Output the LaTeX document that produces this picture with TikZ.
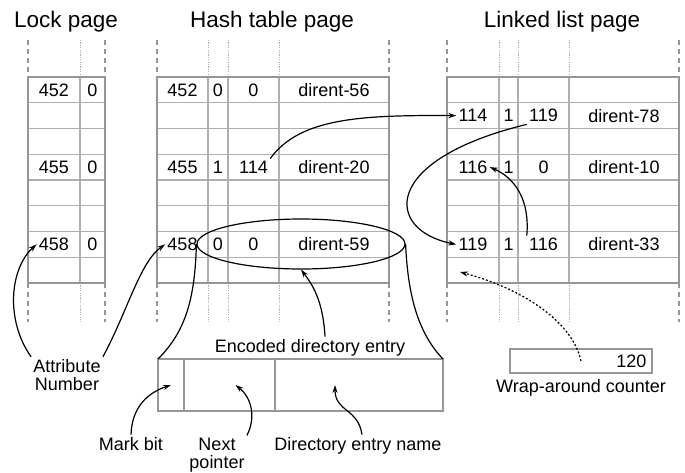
\documentclass[tikz,border=0pt]{standalone}
\usepackage{fontspec}
\setmainfont{Liberation Sans}
\usetikzlibrary{arrows.meta,positioning,shapes.geometric}

\definecolor{pagegray}{RGB}{150,150,150}
\definecolor{gridgray}{RGB}{175,175,175}

\tikzset{
  pageline/.style={draw=pagegray, line width=1.4pt},
  gridline/.style={draw=gridgray, line width=0.6pt},
  pageext/.style={draw=pagegray, line width=1.4pt, dash pattern=on 2.5pt off 2pt},
  gridext/.style={draw=gridgray, line width=0.4pt, dash pattern=on 0.6pt off 0.6pt},
  cell/.style={inner sep=1pt, font=\fontsize{9}{10.8}\selectfont},
  title/.style={anchor=base, font=\fontsize{11.25}{13.5}\selectfont},
  note/.style={inner sep=1pt, align=center, font=\fontsize{9}{9.2}\selectfont},
  entrycell/.style={draw=pagegray, line width=1.2pt, minimum height=26pt, inner sep=0pt, outer sep=0pt},
  counterbox/.style={draw=pagegray, line width=0.7pt, minimum width=71pt, minimum height=12pt, inner sep=0pt},
  ptr/.style={draw=black, line width=0.6pt, -{Stealth[length=4pt,width=2.6pt]}},
  dotptr/.style={ptr, dash pattern=on 1pt off 1pt},
}

\begin{document}
\begin{tikzpicture}[x=0.5pt,y=-0.5pt]
\useasboundingbox (0,0) rectangle (685,472);

% Titles
\node[title] (locktitle) at (66,27) {Lock page};
\node[title] (hashtitle) at (272,27) {Hash table page};
\node[title] (listtitle) at (562,27) {Linked list page};

% Lock page
\foreach \r in {1,...,7}
  \draw[gridline] (28,{77+25.75*\r}) -- (105,{77+25.75*\r});
\draw[gridline] (80,77) -- (80,283);
\draw[gridext] (80,40) -- (80,77);
\draw[gridext] (80,283) -- (80,322);
\draw[pageline] (28,77) rectangle (105,283);
\foreach \x in {28,105} {
  \draw[pageext] (\x,40) -- (\x,77);
  \draw[pageext] (\x,283) -- (\x,322);
}

% Hash table page
\foreach \r in {1,...,7}
  \draw[gridline] (157,{77+25.75*\r}) -- (389,{77+25.75*\r});
\foreach \x in {208,228,279} {
  \draw[gridline] (\x,77) -- (\x,283);
  \draw[gridext] (\x,40) -- (\x,77);
  \draw[gridext] (\x,283) -- (\x,322);
}
\draw[pageline] (157,77) rectangle (389,283);
\foreach \x in {157,389} {
  \draw[pageext] (\x,40) -- (\x,77);
  \draw[pageext] (\x,283) -- (\x,322);
}

% Linked list page
\foreach \r in {1,...,7}
  \draw[gridline] (447,{77+25.75*\r}) -- (679,{77+25.75*\r});
\foreach \x in {499,518,569} {
  \draw[gridline] (\x,77) -- (\x,283);
  \draw[gridext] (\x,40) -- (\x,77);
  \draw[gridext] (\x,283) -- (\x,322);
}
\draw[pageline] (447,77) rectangle (679,283);
\foreach \x in {447,679} {
  \draw[pageext] (\x,40) -- (\x,77);
  \draw[pageext] (\x,283) -- (\x,322);
}

% Lock page entries
\node[cell] (lockkey0) at (54,89.9) {452};
\node[cell] (lockbit0) at (92.5,89.9) {0};
\node[cell] (lockkey3) at (54,167.1) {455};
\node[cell] (lockbit3) at (92.5,167.1) {0};
\node[cell] (lockkey6) at (54,244.4) {458};
\node[cell] (lockbit6) at (92.5,244.4) {0};

% Hash table entries
\node[cell] (hkey0) at (182.5,89.9) {452};
\node[cell] (hbit0) at (218,89.9) {0};
\node[cell] (hnext0) at (253.5,89.9) {0};
\node[cell] (hname0) at (334,89.9) {dirent-56};
\node[cell] (hkey3) at (182.5,167.1) {455};
\node[cell] (hbit3) at (218,167.1) {1};
\node[cell] (hnext3) at (253.5,167.1) {114};
\node[cell] (hname3) at (334,167.1) {dirent-20};
\node[cell] (hkey6) at (182.5,244.4) {458};
\node[cell] (hbit6) at (218,244.4) {0};
\node[cell] (hnext6) at (253.5,244.4) {0};
\node[cell] (hname6) at (334,244.4) {dirent-59};

% Linked list entries
\node[cell] (lkey1) at (473,115.6) {114};
\node[cell] (lbit1) at (508.5,115.6) {1};
\node[cell] (lnext1) at (543.5,115.6) {119};
\node[cell] (lname1) at (624,115.6) {dirent-78};
\node[cell] (lkey3) at (473,167.1) {116};
\node[cell] (lbit3) at (508.5,167.1) {1};
\node[cell] (lnext3) at (543.5,167.1) {0};
\node[cell] (lname3) at (624,167.1) {dirent-10};
\node[cell] (lkey6) at (473,244.4) {119};
\node[cell] (lbit6) at (508.5,244.4) {1};
\node[cell] (lnext6) at (543.5,244.4) {116};
\node[cell] (lname6) at (624,244.4) {dirent-33};
\coordinate (lfree) at (460,272);

% Encoded entry
\node[draw, ellipse, line width=0.6pt, minimum width=104pt, minimum height=25pt, inner sep=0pt] (entry) at (301,244) {};
\node[note, anchor=base] (enclbl) at (310,352) {Encoded directory entry};
\node[entrycell, minimum width=13pt] (mark) at (171,385) {};
\node[entrycell, minimum width=45.5pt, right=0pt of mark] (nextp) {};
\node[entrycell, minimum width=84pt, right=0pt of nextp] (dname) {};

% Wrap-around counter
\node[counterbox] (wrap) at (581,361) {};
\node[cell, left=2pt of wrap.east] (count) {120};
\node[note, anchor=base] (wraplbl) at (581,392) {Wrap-around counter};

% Labels
\node[note] (albl) at (67,375) {Attribute\\Number};
\node[note, anchor=base] (mlbl) at (131,450) {Mark bit};
\node[note] (nlbl) at (217,455) {Next\\pointer};
\node[note, anchor=base] (dlbl) at (358,450) {Directory entry name};

% Pointers
\draw[ptr] (hnext3.north east) .. controls (300,118) and (360,115) .. (lkey1.west);
\draw[ptr] (lnext1.south west) .. controls (380,160) and (385,230) .. (lkey6.west);
\draw[ptr] (lnext6.north west) .. controls (530,200) and (515,178) .. (lkey3.east);
\draw[dotptr] (wrap.center) .. controls (572,320) and (520,288) .. (lfree);
\draw[ptr] (albl.north west) .. controls (5,320) and (10,268) .. (lockkey6.west);
\draw[ptr] (albl.north east) .. controls (128,310) and (140,262) .. (hkey6.west);
\draw[ptr] ([xshift=7.5pt]enclbl.north) .. controls (323,300) and (312,284) .. (entry.south);
\draw[ptr] (mlbl.north) .. controls (132,405) and (150,392) .. (mark.center);
\draw[ptr] (nlbl.north east) .. controls (256,418) and (252,398) .. ([xshift=3pt]nextp.center);
\draw[ptr] ([xshift=2pt]dlbl.north) .. controls (358,408) and (335,412) .. ([xshift=-12pt]dname.center);
\draw[line width=0.6pt] (entry.west) .. controls (195,300) and (185,332) .. (mark.north west);
\draw[line width=0.6pt] (entry.east) .. controls (408,300) and (420,335) .. (dname.north east);
\end{tikzpicture}
\end{document}
